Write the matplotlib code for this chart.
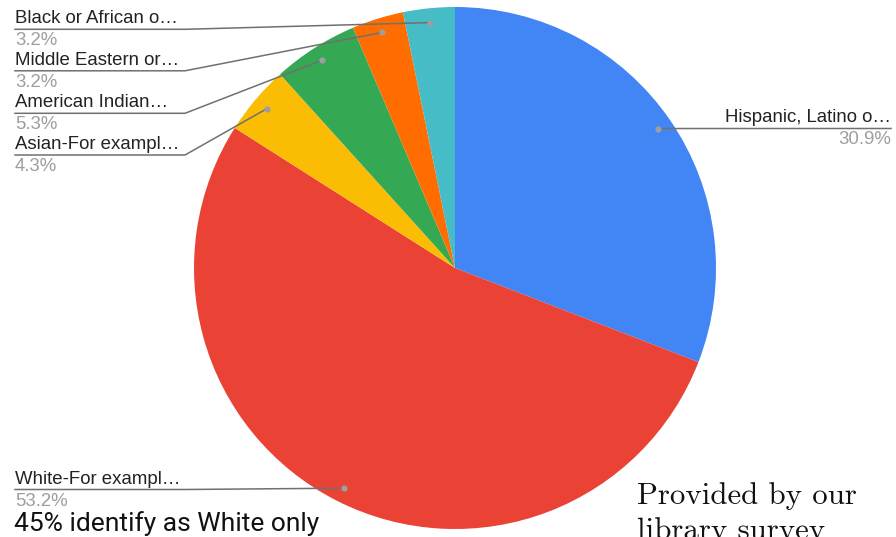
import numpy as np
import matplotlib.pyplot as plt

W, H = 896, 537

# slices, clockwise from 12 o'clock
labels = ["Hispanic, Latino o…", "White-For exampl…", "Asian-For exampl…",
          "American Indian…", "Middle Eastern or…", "Black or African o…"]
values = [30.9, 53.2, 4.3, 5.3, 3.2, 3.2]
pct_text = ["30.9%", "53.2%", "4.3%", "5.3%", "3.2%", "3.2%"]
colors = ["#4285F4", "#EA4335", "#FBBC04", "#34A853", "#FF6D01", "#46BDC6"]

# label layout (pixels from top): side and y of the leader line
label_side = ["right", "left", "left", "left", "left", "left"]
label_line_y = [128.5, 489.5, 155, 113.3, 70.8, 29.3]

cx, cy, R = 455, 268, 261
knee_x = 185
font = "Liberation Sans"

fig = plt.figure(figsize=(W / 100, H / 100), dpi=100)
ax = fig.add_axes([0, 0, 1, 1])

def Y(y):
    return H - y

ax.pie(values, colors=colors, radius=R, center=(cx, Y(cy)), startangle=90,
       counterclock=False, frame=True, wedgeprops=dict(linewidth=0))

total = sum(values)
cum = np.cumsum([0] + values[:-1])
for i, lab in enumerate(labels):
    mid = 90 - 360 * (cum[i] + values[i] / 2) / total
    dx = cx + 0.945 * R * np.cos(np.radians(mid))
    dy = cy - 0.945 * R * np.sin(np.radians(mid))
    ly = label_line_y[i]
    if label_side[i] == "left":
        xs = [15, min(knee_x, dx), dx]
        ys = [ly, ly, dy]
        tx, ha = 15, "left"
    else:
        xs = [891, dx]
        ys = [ly, dy]
        tx, ha = 891, "right"
    ax.plot(xs, [Y(v) for v in ys], color="#707070", lw=1.1, zorder=3)
    ax.plot(dx, Y(dy), "o", color="#9e9e9e", ms=4.5, mec="none", zorder=4)
    ax.text(tx, Y(ly - 6), lab, ha=ha, va="baseline", fontsize=13.4,
            color="#222222", family=font)
    ax.text(tx, Y(ly + 16), pct_text[i], ha=ha, va="baseline", fontsize=13.4,
            color="#9e9e9e", family=font)

ax.text(14, Y(531), "45% identify as White only", ha="left", va="baseline",
        fontsize=19, color="#111111", family="Roboto")
ax.text(637, Y(503.5), "Provided by our", ha="left", va="baseline",
        fontsize=22.2, color="#111111", family="cmr10")
ax.text(637, Y(539), "library survey", ha="left", va="baseline",
        fontsize=22.2, color="#111111", family="cmr10")

ax.set_xlim(0, W)
ax.set_ylim(0, H)
ax.set_aspect("equal")
ax.axis("off")

fig.savefig("out.png", dpi=100)
